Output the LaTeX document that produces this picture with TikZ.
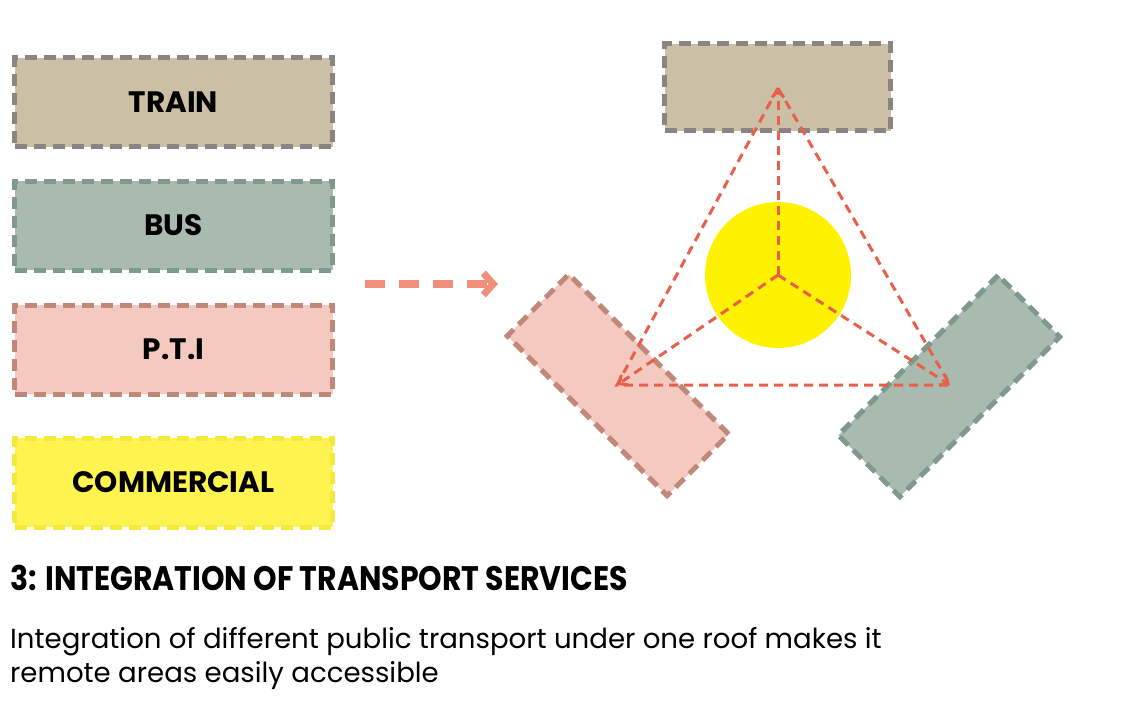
\documentclass[tikz,border=0pt]{standalone}
\usepackage{fontspec}
\setmainfont{Poppins}
\usetikzlibrary{arrows.meta}
\definecolor{trainfill}{HTML}{CBBFA5}
\definecolor{traindraw}{HTML}{8A8580}
\definecolor{busfill}{HTML}{A9BBAE}
\definecolor{busdraw}{HTML}{7F998D}
\definecolor{ptifill}{HTML}{F4C9C0}
\definecolor{ptidraw}{HTML}{C08878}
\definecolor{comfill}{HTML}{FFF44F}
\definecolor{comdraw}{HTML}{F6E93E}
\definecolor{circfill}{HTML}{FFF200}
\definecolor{linkcol}{HTML}{E8604C}
\definecolor{arrowcol}{HTML}{F0907A}
\tikzset{
  box/.style={rectangle, inner sep=0pt, line width=5pt,
    dash pattern=on 12pt off 7pt, font=\bfseries\fontsize{29.5}{32}\selectfont},
  legendbox/.style={box, minimum width=318pt, minimum height=89pt},
  planbox/.style={box, minimum width=226pt, minimum height=87pt},
  trainbox/.style={fill=trainfill, draw=traindraw},
  busbox/.style={fill=busfill, draw=busdraw},
  ptibox/.style={fill=ptifill, draw=ptidraw},
  combox/.style={fill=comfill, draw=comdraw},
  link/.style={draw=linkcol, line width=3pt, dash pattern=on 9pt off 6pt},
  linkarrow/.style={link, -{Straight Barb[length=7pt,width=12pt,line width=3pt]}},
  bigarrow/.style={draw=arrowcol, line width=8pt, dash pattern=on 20pt off 14pt,
    -{Straight Barb[length=10pt,width=22pt,line width=7pt]}},
}
\begin{document}
\begin{tikzpicture}[x=1pt,y=-1pt]
\useasboundingbox (0,0) rectangle (1139,724);
% legend
\node[legendbox, trainbox] (legtrain) at (173.5,102) {TRAIN};
\node[legendbox, busbox] (legbus) at (173.5,225.5) {BUS};
\node[legendbox, ptibox] (legpti) at (173.5,349.5) {P.T.I};
\node[legendbox, combox] (legcom) at (173.5,482.5) {COMMERCIAL};
% big arrow
\coordinate (arrs) at (365,284);
\coordinate (arre) at (498,284);
\draw[bigarrow] (arrs) -- (arre);
% plan
\node[planbox, trainbox] (rtrain) at (777.5,87) {};
\node[planbox, ptibox, rotate=-45] (rpti) at (618,385) {};
\node[planbox, busbox, rotate=45] (rbus) at (949,386) {};
\node[circle, fill=circfill, minimum size=146pt, inner sep=0pt] (rcom) at (778,275) {};
\coordinate (A) at (778,88);
\coordinate (L) at (617,385);
\coordinate (R) at (950,385);
\coordinate (O) at (rcom.center);
\draw[link] (A) -- (L) -- (R) -- cycle;
\draw[linkarrow] (O) -- (A);
\draw[linkarrow] (O) -- (L);
\draw[linkarrow] (O) -- (R);
% texts
\node[anchor=base west, inner sep=0pt] (title) at (10,590)
  {\scalebox{0.88}[1]{\bfseries\fontsize{34}{36}\selectfont 3: INTEGRATION OF TRANSPORT SERVICES}};
\node[anchor=base west, inner sep=0pt] (body1) at (10,648)
  {\fontsize{27.6}{34}\selectfont Integration of different public transport under one roof makes it};
\node[anchor=base west, inner sep=0pt] (body2) at (10,682)
  {\fontsize{27.6}{34}\selectfont remote areas easily accessible};
\end{tikzpicture}
\end{document}
